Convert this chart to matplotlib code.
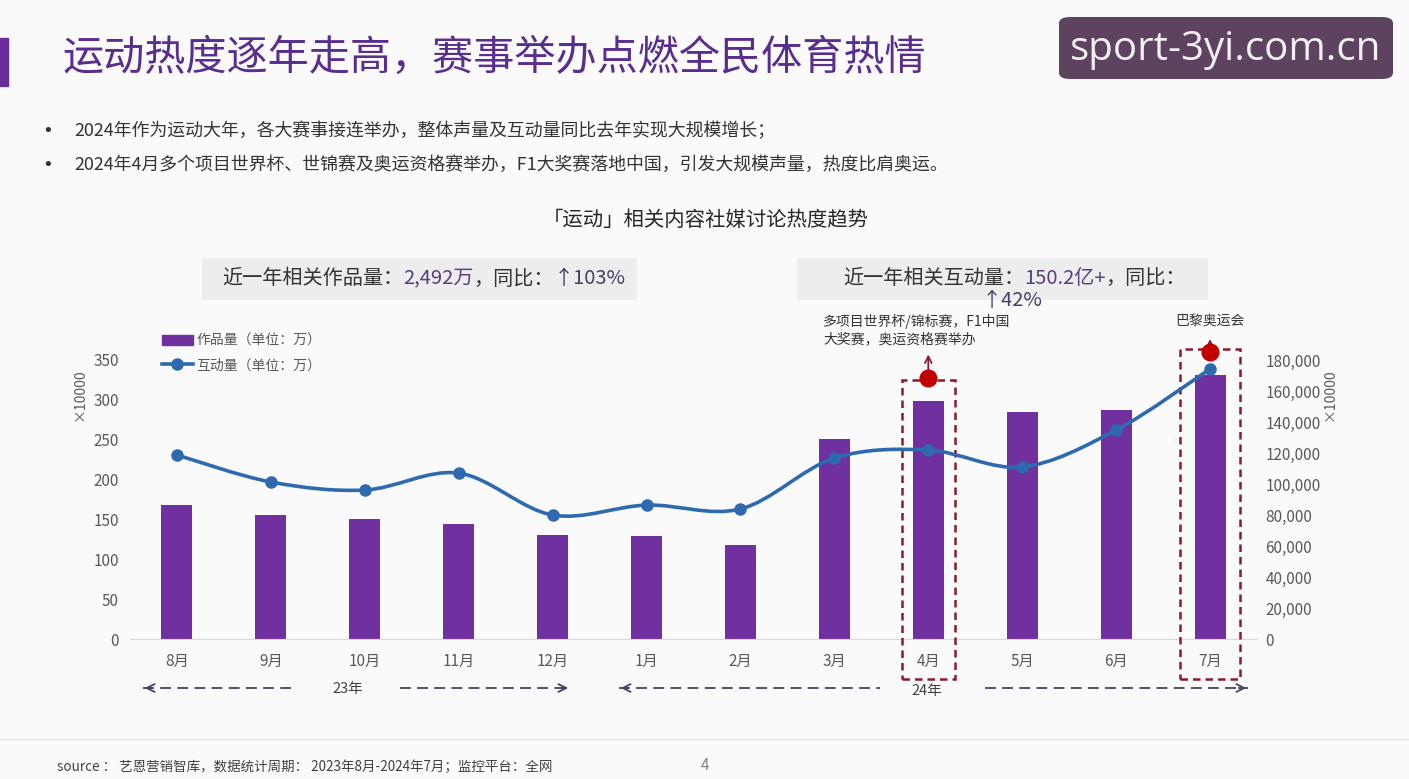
import numpy as np
import matplotlib
matplotlib.use('Agg')
import matplotlib.pyplot as plt
from matplotlib.path import Path
from matplotlib.patches import PathPatch, Rectangle, FancyBboxPatch, FancyArrowPatch
from matplotlib.lines import Line2D
import matplotlib.transforms as mtransforms
from matplotlib.ticker import FuncFormatter

plt.rcParams['font.family'] = ['Noto Sans CJK SC', 'DejaVu Sans']

# data
months = ['8月', '9月', '10月', '11月', '12月', '1月', '2月', '3月', '4月', '5月', '6月', '7月']
works = [168, 156, 151, 144, 131, 129, 118, 251, 299, 285, 287, 331]                  # 作品量 (万) x10000
interactions = [118700, 101300, 96100, 107000, 80000, 86400, 83900,
                116700, 121900, 111000, 134800, 174200]                             # 互动量 (万) x10000
left_ticks = [0, 50, 100, 150, 200, 250, 300, 350]
right_ticks = [0, 20000, 40000, 60000, 80000, 100000, 120000, 140000, 160000, 180000]

W, H = 1409, 779
BG = '#FAFAFA'
PURPLE = '#7030A0'
BLUE = '#2F6AAE'
DARKRED = '#8B1A2E'
GRAY = '#595959'
TXT = '#333333'
MUTED = '#5B3E7E'
ARR = '#4B3D63'


def px(x, y):
    return x / W, 1 - y / H


fig = plt.figure(figsize=(W / 100, H / 100), dpi=100, facecolor=BG)
renderer = fig.canvas.get_renderer()

# header
fig.patches.append(Rectangle(px(0, 86), 8 / W, 48 / H, transform=fig.transFigure,
                             color='#6A2C9A', zorder=1))
fig.text(*px(62, 58), '运动热度逐年走高，赛事举办点燃全民体育热情', fontsize=29.6,
         color='#5A2E8E', va='center', ha='left')
fig.patches.append(FancyBboxPatch(px(1059, 79), 334 / W, 62 / H, transform=fig.transFigure,
                                  boxstyle='round,pad=0,rounding_size=0.008',
                                  facecolor='#5E4360', edgecolor='none'))
fig.text(*px(1226, 50), 'sport-3yi.com.cn', fontsize=29, color='#F2EEF2',
         family=['Open Sans', 'DejaVu Sans'], ha='center', va='center')

bullets = ['2024年作为运动大年，各大赛事接连举办，整体声量及互动量同比去年实现大规模增长；',
           '2024年4月多个项目世界杯、世锦赛及奥运资格赛举办，F1大奖赛落地中国，引发大规模声量，热度比肩奥运。']
for i, b in enumerate(bullets):
    y = 131 + 34 * i
    fig.text(*px(42, y), '•', fontsize=13, color=TXT, va='center', family=['DejaVu Sans'])
    fig.text(*px(74, y), b, fontsize=12.9, color=TXT, va='center')

fig.text(*px(706, 220), '「运动」相关内容社媒讨论热度趋势', fontsize=14.7, color='#262626',
         ha='center', va='center')

# summary boxes
for x0, x1 in [(202, 637), (797, 1208)]:
    fig.patches.append(Rectangle(px(x0, 300), (x1 - x0) / W, 42 / H, transform=fig.transFigure,
                                 facecolor='#EDEDED', edgecolor='none'))


def multi_text(x, y, parts, size=14.5):
    cur = x
    for s, c in parts:
        t = fig.text(*px(cur, y), s, fontsize=size, color=c, va='center', ha='left')
        bb = t.get_window_extent(renderer=renderer)
        cur += bb.width


multi_text(222, 279, [('近一年相关作品量：', TXT), ('2,492万', MUTED), ('，同比：', TXT), ('↑103%', ARR)])
multi_text(843, 278, [('近一年相关互动量：', TXT), ('150.2亿+', MUTED), ('，同比：', TXT)])
fig.text(*px(1012, 300), '↑42%', fontsize=14.5, color=ARR, ha='center', va='center')

ax = fig.add_axes([130 / W, 1 - 639 / H, 1127 / W, 279 / H])
ax.set_facecolor('none')

x = np.arange(len(months))
ax.bar(x, works, width=0.33, color=PURPLE, zorder=2)
ax.set_xlim(-0.5, len(months) - 0.5)
ax.set_ylim(0, 350)
ax.set_yticks(left_ticks)
ax.set_xticks(x)
ax.set_xticklabels(months)
for s in ['top', 'right', 'left']:
    ax.spines[s].set_visible(False)
ax.spines['bottom'].set_color('#D9D9D9')
ax.tick_params(axis='both', length=0, labelsize=11, colors=GRAY)
ax.tick_params(axis='x', pad=10)
ax.tick_params(axis='y', pad=8)

ax2 = ax.twinx()
ax2.set_ylim(0, 180000)
ax2.set_yticks(right_ticks)
ax2.yaxis.set_major_formatter(FuncFormatter(lambda v, p: f'{v:,.0f}'))
for s in ax2.spines.values():
    s.set_visible(False)
ax2.tick_params(axis='y', length=0, labelsize=11, colors=GRAY, pad=6)

# smoothed line (Catmull-Rom -> cubic bezier through the data points)
pts = np.column_stack([x, interactions]).astype(float)
ext = np.vstack([pts[0], pts, pts[-1]])
verts = [tuple(pts[0])]
codes = [Path.MOVETO]
for i in range(len(pts) - 1):
    p0, p1, p2, p3 = ext[i], ext[i + 1], ext[i + 2], ext[i + 3]
    c1 = p1 + (p2 - p0) / 6
    c2 = p2 - (p3 - p1) / 6
    verts += [tuple(c1), tuple(c2), tuple(p2)]
    codes += [Path.CURVE4] * 3
ax2.add_patch(PathPatch(Path(verts, codes), facecolor='none', edgecolor=BLUE, lw=2.6,
                        zorder=3, capstyle='round'))
ax2.plot(x, interactions, 'o', color=BLUE, ms=8, zorder=4)

# axis unit labels
fig.text(*px(80, 395), '×10000', rotation=90, fontsize=10, color=GRAY, ha='center', va='center')
fig.text(*px(1330, 395), '×10000', rotation=90, fontsize=10, color=GRAY, ha='center', va='center')

# legend
handles = [Rectangle((0, 0), 1, 1, color=PURPLE),
           Line2D([], [], color=BLUE, lw=2.6, marker='o', ms=8)]
ax.legend(handles, ['作品量（单位：万）', '互动量（单位：万）'], loc='center left',
          bbox_to_anchor=px(155, 353), bbox_transform=fig.transFigure, frameon=False,
          fontsize=10, labelcolor=GRAY, handlelength=2.2, handletextpad=0.3, labelspacing=0.75,
          borderpad=0)

# highlight boxes and event markers
tr = mtransforms.blended_transform_factory(ax.transData, ax.transAxes)
for idx, half, top, dot_y, arr_top in [(8, 0.28, 0.928, 0.935, 1.02), (11, 0.315, 1.039, 1.03, 1.075)]:
    ax.add_patch(Rectangle((idx - half, -0.143), 2 * half, top + 0.143, transform=tr,
                           fill=False, edgecolor=DARKRED, lw=1.8, ls=(0, (3, 2)),
                           clip_on=False, zorder=5))
    ax.add_patch(FancyArrowPatch((idx, dot_y), (idx, arr_top), transform=tr,
                                 arrowstyle='->', mutation_scale=12, color=DARKRED,
                                 lw=1.3, clip_on=False, zorder=5, shrinkA=0, shrinkB=0))
    ax.plot([idx], [dot_y], 'o', transform=tr, color='#C00000', ms=12, clip_on=False, zorder=6)

fig.text(*px(823, 330), '多项目世界杯/锦标赛，F1中国\n大奖赛，奥运资格赛举办', fontsize=10,
         color=TXT, va='center', ha='left', linespacing=1.3)
fig.text(*px(1210, 321), '巴黎奥运会', fontsize=10, color=TXT, va='center', ha='center')

# year spans below axis
ACOL = '#4A4060'


def year_arrow(xa, xb, head):
    fig.add_artist(Line2D([xa / W, xb / W], [1 - 688 / H] * 2, color=ACOL, lw=1.3,
                          dashes=(6, 3.5)))
    if head == 'left':
        s, e = px(xa + 12, 688), px(xa - 1, 688)
    else:
        s, e = px(xb - 12, 688), px(xb + 1, 688)
    fig.add_artist(FancyArrowPatch(s, e, transform=fig.transFigure, arrowstyle='->',
                                   mutation_scale=14, color=ACOL, lw=1.3))


year_arrow(143, 297, 'left')
year_arrow(400, 570, 'right')
year_arrow(619, 880, 'left')
year_arrow(985, 1248, 'right')
fig.text(*px(348, 689), '23年', fontsize=10.5, color='#404040', ha='center', va='center')
fig.text(*px(927, 691), '24年', fontsize=10.5, color='#404040', ha='center', va='center')

# footer
fig.add_artist(Line2D([0, 1], [1 - 739 / H] * 2, color='#E3E3E3', lw=1))
fig.text(*px(57, 767), 'source ： 艺恩营销智库，数据统计周期： 2023年8月-2024年7月；监控平台：全网',
         fontsize=9.7, color='#404040', va='center')
fig.text(*px(705, 765), '4', fontsize=11, color='#808080', ha='center', va='center')

fig.savefig('out.png', dpi=100, facecolor=BG)
